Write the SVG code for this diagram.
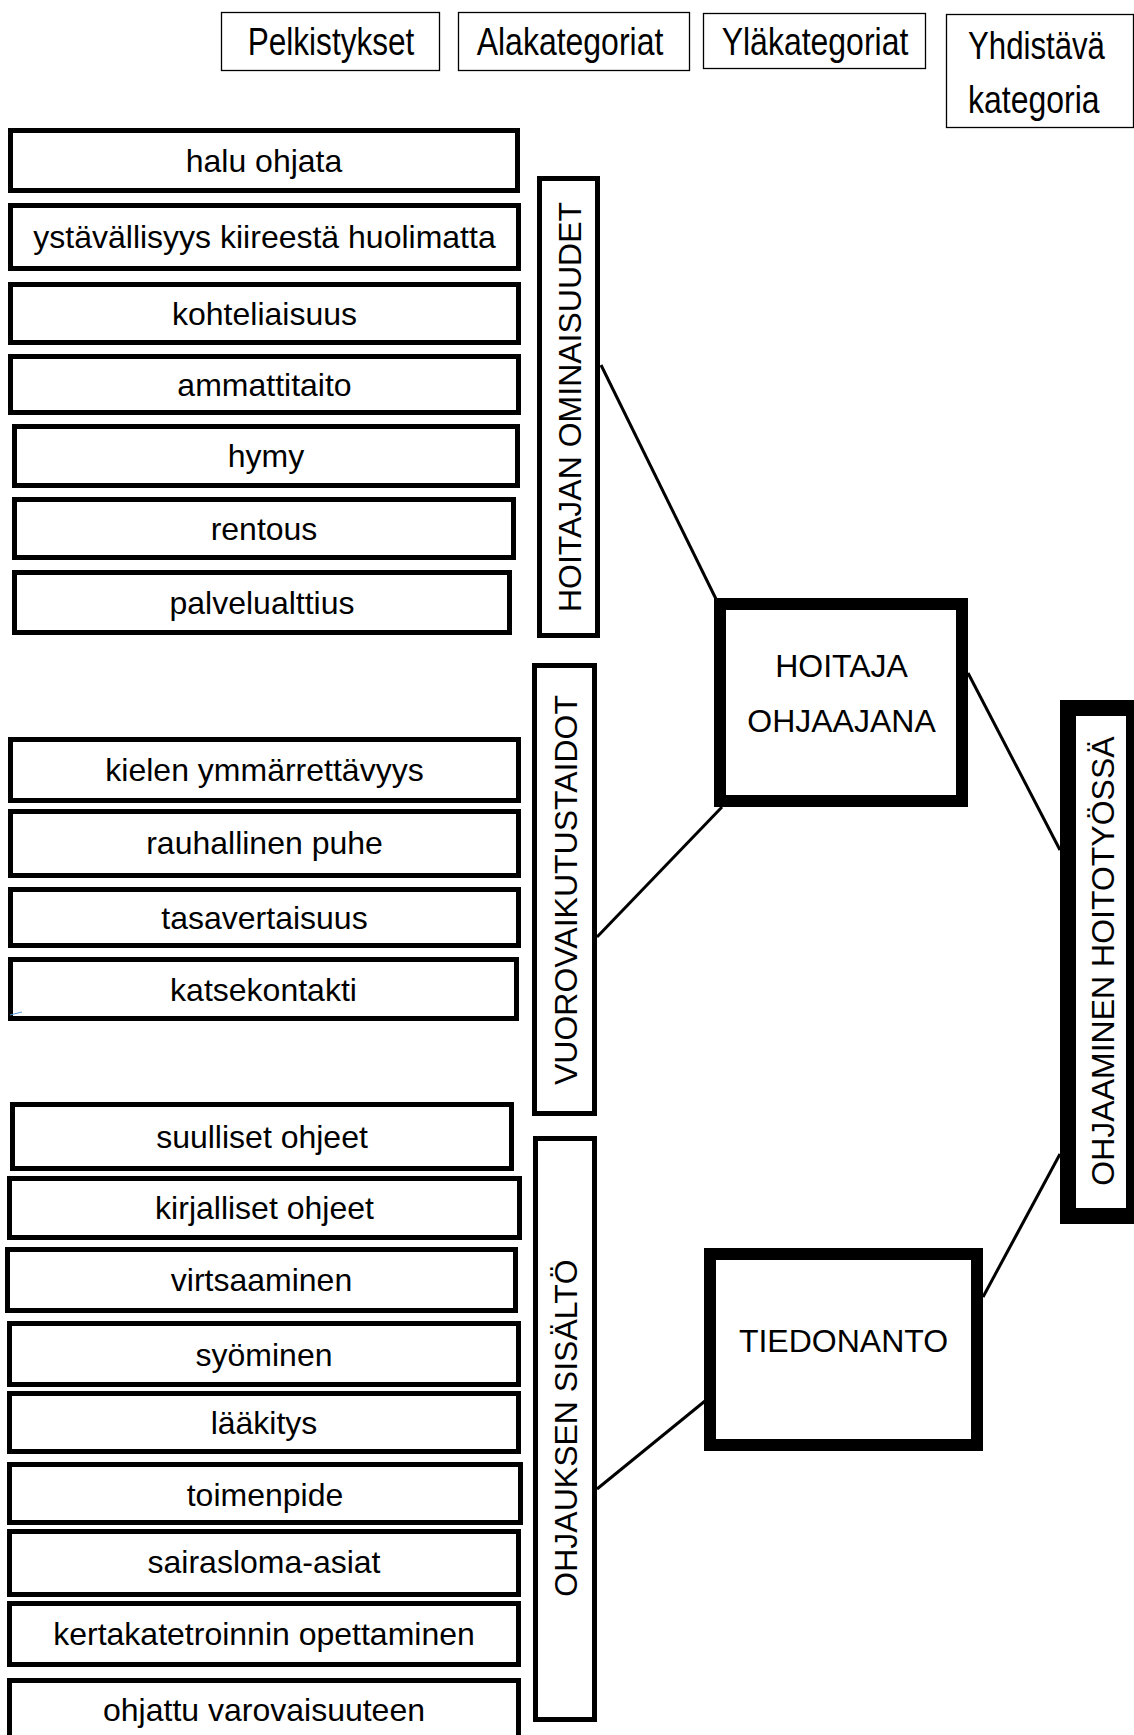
<svg xmlns="http://www.w3.org/2000/svg" width="1134" height="1735" viewBox="0 0 1134 1735">
<style>
  text { font-family: "Liberation Sans", Arial, sans-serif; fill: #000; }
  .lg { fill: #fff; stroke: #000; stroke-width: 1.3; }
  .lt { font-size: 39px; }
  .p { fill: #fff; stroke: #000; stroke-width: 5; }
  .pt { font-size: 32px; text-anchor: middle; }
  .big { fill: #fff; stroke: #000; stroke-width: 12; }
  .top { fill: #fff; stroke: #000; stroke-width: 16; }
  .conn line { stroke: #000; stroke-width: 3; }
</style>
<rect width="1134" height="1735" fill="#fff"/>

<g id="legend">
  <g id="legend-pelkistykset"><rect class="lg" x="221.5" y="12.5" width="218" height="58"/><text class="lt" transform="translate(331,55) scale(0.81,1)" text-anchor="middle">Pelkistykset</text></g>
  <g id="legend-alakategoriat"><rect class="lg" x="458.5" y="12.5" width="231" height="58"/><text class="lt" transform="translate(570,55) scale(0.82,1)" text-anchor="middle">Alakategoriat</text></g>
  <g id="legend-ylakategoriat"><rect class="lg" x="703.5" y="13.5" width="222" height="55"/><text class="lt" transform="translate(815,55) scale(0.82,1)" text-anchor="middle">Yläkategoriat</text></g>
  <g id="legend-yhdistava"><rect class="lg" x="946.5" y="14.5" width="187" height="113"/><text class="lt" transform="translate(968,59) scale(0.8,1)">Yhdistävä</text><text class="lt" transform="translate(968,113) scale(0.82,1)">kategoria</text></g>
</g>

<g id="conn" class="conn">
  <line x1="601" y1="365" x2="716" y2="599"/>
  <line x1="597" y1="937" x2="722" y2="807"/>
  <line x1="968" y1="673" x2="1060" y2="850"/>
  <line x1="597" y1="1489" x2="705" y2="1401"/>
  <line x1="983" y1="1297" x2="1060" y2="1154"/>
</g>

<g id="n-halu"><rect class="p" x="10.5" y="130.5" width="507" height="60"/><text class="pt" x="264" y="171.5">halu ohjata</text></g>
<g id="n-ystavallisyys"><rect class="p" x="10.5" y="205.5" width="508" height="63"/><text class="pt" x="264.5" y="248">ystävällisyys kiireestä huolimatta</text></g>
<g id="n-kohteliaisuus"><rect class="p" x="10.5" y="284.5" width="508" height="58"/><text class="pt" x="264.5" y="324.5">kohteliaisuus</text></g>
<g id="n-ammattitaito"><rect class="p" x="10.5" y="356.5" width="508" height="56"/><text class="pt" x="264.5" y="395.5">ammattitaito</text></g>
<g id="n-hymy"><rect class="p" x="14.5" y="426.5" width="503" height="59"/><text class="pt" x="266" y="467">hymy</text></g>
<g id="n-rentous"><rect class="p" x="14.5" y="499.5" width="499" height="58"/><text class="pt" x="264" y="539.5">rentous</text></g>
<g id="n-palvelualttius"><rect class="p" x="14.5" y="572.5" width="495" height="60"/><text class="pt" x="262" y="613.5">palvelualttius</text></g>

<g id="n-kielen"><rect class="p" x="10.5" y="739.5" width="508" height="61"/><text class="pt" x="264.5" y="781">kielen ymmärrettävyys</text></g>
<g id="n-rauhallinen"><rect class="p" x="10.5" y="811.5" width="508" height="64"/><text class="pt" x="264.5" y="853.5">rauhallinen puhe</text></g>
<g id="n-tasavertaisuus"><rect class="p" x="10.5" y="889.5" width="508" height="56"/><text class="pt" x="264.5" y="929">tasavertaisuus</text></g>
<g id="n-katsekontakti"><rect class="p" x="10.5" y="959.5" width="506" height="59"/><text class="pt" x="263.5" y="1000.5">katsekontakti</text></g>
<line x1="10" y1="1015" x2="22" y2="1012" stroke="#5b9bd5" stroke-width="1"/>

<g id="n-suulliset"><rect class="p" x="12.5" y="1104.5" width="499" height="64"/><text class="pt" x="262" y="1147.5">suulliset ohjeet</text></g>
<g id="n-kirjalliset"><rect class="p" x="9.5" y="1178.5" width="510" height="59"/><text class="pt" x="264.5" y="1219">kirjalliset ohjeet</text></g>
<g id="n-virtsaaminen"><rect class="p" x="7.5" y="1249.5" width="508" height="61"/><text class="pt" x="261.5" y="1291">virtsaaminen</text></g>
<g id="n-syominen"><rect class="p" x="9.5" y="1323.5" width="509" height="61"/><text class="pt" x="264" y="1365.5">syöminen</text></g>
<g id="n-laakitys"><rect class="p" x="9.5" y="1393.5" width="509" height="58"/><text class="pt" x="264" y="1434">lääkitys</text></g>
<g id="n-toimenpide"><rect class="p" x="9.5" y="1464.5" width="511" height="58"/><text class="pt" x="265" y="1505.5">toimenpide</text></g>
<g id="n-sairasloma"><rect class="p" x="9.5" y="1531.5" width="509" height="63"/><text class="pt" x="264" y="1573">sairasloma-asiat</text></g>
<g id="n-kertakatetroinnin"><rect class="p" x="9.5" y="1603.5" width="509" height="61"/><text class="pt" x="264" y="1645">kertakatetroinnin opettaminen</text></g>
<g id="n-ohjattu"><rect class="p" x="9.5" y="1680.5" width="509" height="70"/><text class="pt" x="264" y="1720.5">ohjattu varovaisuuteen</text></g>

<g id="n-hoitajan-ominaisuudet"><rect class="p" x="539.5" y="178.5" width="58" height="457"/><text class="pt" transform="translate(569,407) rotate(-90)" x="0" y="11.5">HOITAJAN OMINAISUUDET</text></g>
<g id="n-vuorovaikutustaidot"><rect class="p" x="534.5" y="665.5" width="60" height="448"/><text class="pt" transform="translate(565,890) rotate(-90)" x="0" y="11.5">VUOROVAIKUTUSTAIDOT</text></g>
<g id="n-ohjauksen-sisalto"><rect class="p" x="535.5" y="1138.5" width="59" height="581"/><text class="pt" transform="translate(565,1428) rotate(-90)" x="0" y="11.5">OHJAUKSEN SISÄLTÖ</text></g>

<g id="n-hoitaja-ohjaajana"><rect class="big" x="720" y="604" width="242" height="197"/><text class="pt" x="841.5" y="677">HOITAJA</text><text class="pt" x="841.5" y="732">OHJAAJANA</text></g>
<g id="n-tiedonanto"><rect class="big" x="710" y="1254" width="267" height="191"/><text class="pt" x="843.5" y="1352">TIEDONANTO</text></g>

<g id="n-ohjaaminen"><rect class="top" x="1068" y="708" width="66" height="508"/><text class="pt" transform="translate(1102,961) rotate(-90)" x="0" y="11.5">OHJAAMINEN HOITOTYÖSSÄ</text></g>
</svg>
